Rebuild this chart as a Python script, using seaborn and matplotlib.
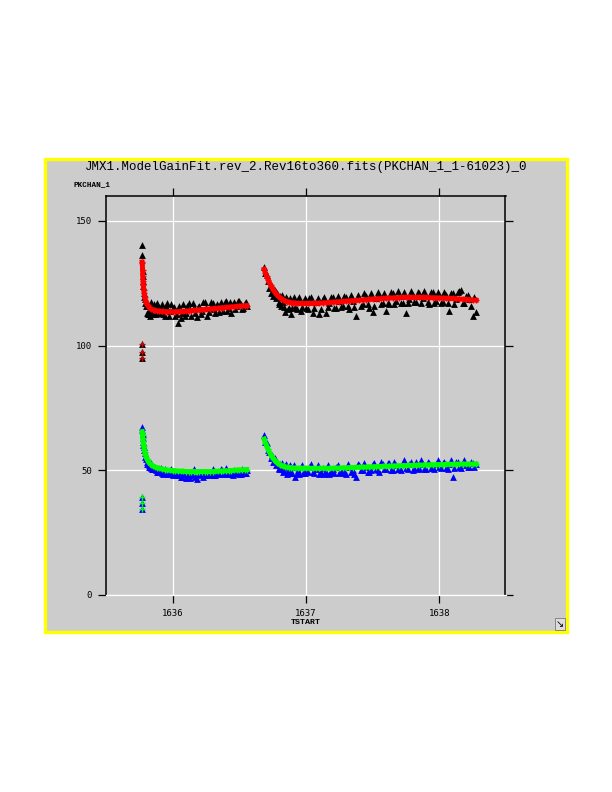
import matplotlib
matplotlib.use("Agg")
import matplotlib.pyplot as plt
from matplotlib.patches import Rectangle
import numpy as np
import pandas as pd
import seaborn as sns

# ---------------- data ----------------
title = "JMX1.ModelGainFit.rev_2.Rev16to360.fits(PKCHAN_1_1-61023)_0"
y_name = "PKCHAN_1"
x_name = "TSTART"
x_ticks = [1636, 1637, 1638]
x_tick_labels = ["1636", "1637", "1638"]
y_ticks = [0, 50, 100, 150]
y_tick_labels = ["0", "50", "100", "150"]

# segment 1 times
t1 = [1635.771, 1635.772, 1635.774, 1635.776, 1635.778, 1635.780, 1635.783, 1635.786,
      1635.790, 1635.795, 1635.800, 1635.806, 1635.812, 1635.820, 1635.830, 1635.840,
      1635.855, 1635.870, 1635.885, 1635.900, 1635.920, 1635.940, 1635.960, 1635.980,
      1636.000, 1636.020, 1636.040, 1636.060, 1636.080, 1636.100, 1636.120, 1636.140,
      1636.160, 1636.180, 1636.200, 1636.220, 1636.240, 1636.260, 1636.280, 1636.300,
      1636.320, 1636.340, 1636.360, 1636.380, 1636.400, 1636.420, 1636.440, 1636.460,
      1636.480, 1636.500, 1636.520, 1636.540, 1636.555]
upper_data1 = [140.4, 136.2, 130.0, 128.0, 126.0, 124.0, 121.0, 119.5,
               118.5, 117.0, 116.0, 113.0, 112.5, 114.0, 112.0, 116.0,
               112.5, 115.0, 117.0, 113.0, 116.5, 112.0, 117.0, 114.0,
               115.0, 112.0, 109.0, 111.0, 116.5, 113.0, 117.0, 112.0,
               115.5, 111.5, 116.0, 114.0, 117.5, 112.0, 115.0, 117.0,
               113.0, 116.0, 117.5, 114.0, 118.0, 115.0, 113.0, 117.5,
               116.0, 118.0, 114.5, 117.0, 116.0]
upper_fit1 = [133.5, 133.0, 130.5, 128.0, 126.0, 124.3, 122.5, 121.0,
              119.6, 118.4, 117.5, 116.7, 116.1, 115.5, 115.0, 114.6,
              114.3, 114.1, 113.9, 113.8, 113.7, 113.6, 113.6, 113.6,
              113.6, 113.6, 113.6, 113.7, 113.7, 113.8, 113.9, 114.0,
              114.1, 114.2, 114.3, 114.4, 114.5, 114.6, 114.7, 114.8,
              114.9, 115.0, 115.1, 115.2, 115.3, 115.4, 115.5, 115.6,
              115.7, 115.8, 115.9, 116.0, 116.0]
lower_data1 = [67.5, 66.0, 64.5, 63.0, 61.5, 60.0, 59.5, 58.0,
               57.0, 55.5, 54.5, 53.5, 53.0, 52.0, 51.5, 51.0,
               50.5, 50.5, 49.5, 50.0, 49.0, 50.5, 48.5, 49.5,
               48.0, 49.0, 48.0, 47.5, 48.5, 47.0, 49.0, 48.0,
               50.5, 46.5, 48.5, 49.5, 48.0, 49.0, 48.5, 50.5,
               48.0, 49.0, 50.5, 48.5, 51.0, 49.0, 48.5, 50.0,
               49.0, 48.5, 50.5, 49.0, 50.0]
lower_fit1 = [65.5, 65.0, 64.0, 62.8, 61.7, 60.7, 59.6, 58.6,
              57.5, 56.4, 55.5, 54.7, 54.0, 53.3, 52.7, 52.2,
              51.7, 51.3, 51.0, 50.8, 50.5, 50.3, 50.1, 50.0,
              49.9, 49.8, 49.7, 49.6, 49.6, 49.5, 49.5, 49.5,
              49.5, 49.5, 49.5, 49.5, 49.5, 49.5, 49.5, 49.5,
              49.6, 49.6, 49.7, 49.7, 49.8, 49.8, 49.9, 50.0,
              50.1, 50.1, 50.2, 50.3, 50.3]

# extra segment-1 readings between the times above
t1b = [1635.810, 1635.825, 1635.835, 1635.848, 1635.862, 1635.878, 1635.892, 1635.910,
       1635.930, 1635.950, 1635.970, 1635.990, 1636.010, 1636.030, 1636.050, 1636.070,
       1636.090, 1636.110, 1636.130, 1636.150, 1636.170, 1636.190, 1636.210, 1636.230,
       1636.250, 1636.270, 1636.290, 1636.310, 1636.330, 1636.350, 1636.370, 1636.390,
       1636.410, 1636.430, 1636.450, 1636.470, 1636.490, 1636.510, 1636.530, 1636.548]
upper_data1b = [117.0, 112.5, 117.5, 113.0, 116.5, 112.5, 116.0, 115.5,
                112.5, 116.0, 112.0, 116.5, 115.5, 112.5, 116.0, 113.0,
                112.0, 116.0, 114.5, 117.0, 113.0, 115.5, 112.5, 117.5,
                115.0, 113.5, 117.5, 114.5, 116.5, 113.5, 116.0, 117.5,
                114.0, 117.5, 116.5, 114.5, 118.0, 116.5, 115.0, 117.5]
lower_data1b = [52.5, 51.5, 53.0, 50.5, 51.0, 50.0, 49.5, 51.0,
                48.5, 49.5, 48.5, 50.5, 48.5, 48.0, 49.5, 47.5,
                48.5, 48.0, 47.0, 48.5, 47.5, 48.5, 48.0, 47.5,
                49.0, 48.0, 49.5, 48.0, 49.0, 48.5, 50.0, 49.0,
                48.5, 49.5, 48.0, 49.0, 49.5, 48.5, 49.5, 49.0]

# segment 2 times
t2 = [1636.686, 1636.695, 1636.705, 1636.715, 1636.725, 1636.735, 1636.745, 1636.755,
      1636.765, 1636.775, 1636.785, 1636.795, 1636.805, 1636.815, 1636.830, 1636.845,
      1636.860, 1636.875, 1636.890, 1636.905, 1636.920, 1636.940, 1636.960, 1636.980,
      1637.000, 1637.025, 1637.050, 1637.075, 1637.100, 1637.125, 1637.150, 1637.175,
      1637.200, 1637.225, 1637.250, 1637.275, 1637.300, 1637.325, 1637.350, 1637.375,
      1637.400, 1637.425, 1637.450, 1637.475, 1637.500, 1637.525, 1637.550, 1637.575,
      1637.600, 1637.625, 1637.650, 1637.675, 1637.700, 1637.725, 1637.750, 1637.775,
      1637.800, 1637.825, 1637.850, 1637.875, 1637.900, 1637.925, 1637.950, 1637.975,
      1638.000, 1638.025, 1638.050, 1638.075, 1638.100, 1638.125, 1638.150, 1638.175,
      1638.200, 1638.225, 1638.250, 1638.275]
upper_data2 = [131.5, 129.0, 128.5, 126.0, 123.0, 121.0, 124.0, 120.0,
               122.5, 119.0, 121.0, 117.5, 120.0, 116.0, 117.5, 113.5,
               118.5, 115.0, 112.5, 118.0, 115.5, 118.5, 114.0, 117.5,
               115.0, 119.0, 113.0, 117.5, 112.5, 118.5, 113.0, 117.0,
               119.5, 115.0, 118.0, 116.0, 119.5, 114.5, 118.0, 112.0,
               119.0, 116.5, 120.0, 115.0, 113.5, 119.0, 120.5, 117.0,
               114.0, 116.5, 121.0, 118.0, 120.0, 117.0, 113.0, 118.5,
               120.5, 117.5, 121.0, 119.0, 120.0, 116.5, 121.5, 118.0,
               120.0, 117.5, 120.5, 114.0, 121.0, 118.5, 122.0, 117.0,
               120.0, 118.5, 112.0, 113.5]
upper_fit2 = [130.6, 129.2, 127.8, 126.5, 125.3, 124.2, 123.2, 122.3,
              121.5, 120.8, 120.2, 119.7, 119.2, 118.8, 118.3, 117.9,
              117.6, 117.4, 117.2, 117.1, 117.0, 116.9, 116.9, 116.9,
              116.9, 116.9, 116.9, 117.0, 117.0, 117.1, 117.2, 117.3,
              117.4, 117.5, 117.6, 117.7, 117.8, 117.9, 118.0, 118.1,
              118.2, 118.3, 118.4, 118.5, 118.6, 118.7, 118.8, 118.9,
              119.0, 119.1, 119.1, 119.2, 119.2, 119.3, 119.3, 119.3,
              119.3, 119.3, 119.3, 119.3, 119.3, 119.2, 119.2, 119.1,
              119.1, 119.0, 119.0, 118.9, 118.9, 118.8, 118.7, 118.6,
              118.5, 118.4, 118.3, 118.2]
lower_data2 = [64.0, 61.5, 61.0, 58.0, 57.5, 55.0, 56.0, 53.5,
               55.0, 52.0, 53.5, 51.0, 52.5, 50.5, 49.5, 51.5,
               48.5, 50.5, 49.0, 51.5, 47.5, 50.0, 51.5, 49.0,
               50.5, 51.5, 49.5, 50.5, 48.5, 51.0, 49.5, 48.5,
               50.5, 51.5, 49.0, 50.5, 48.5, 51.5, 50.0, 47.5,
               52.0, 50.0, 51.5, 49.5, 52.5, 50.5, 49.5, 52.5,
               50.5, 53.0, 50.0, 52.0, 50.5, 53.0, 51.0, 52.5,
               50.0, 53.5, 51.0, 52.5, 50.5, 53.0, 51.0, 52.5,
               51.5, 53.0, 51.0, 52.5, 47.5, 53.5, 51.5, 53.0,
               52.0, 51.5, 53.0, 52.5]
lower_fit2 = [62.5, 61.0, 59.6, 58.4, 57.3, 56.3, 55.5, 54.7,
              54.1, 53.5, 53.0, 52.6, 52.3, 52.0, 51.7, 51.4,
              51.2, 51.1, 51.0, 50.9, 50.9, 50.8, 50.8, 50.8,
              50.8, 50.8, 50.8, 50.8, 50.8, 50.8, 50.8, 50.8,
              50.8, 50.9, 50.9, 51.0, 51.0, 51.1, 51.1, 51.2,
              51.2, 51.3, 51.3, 51.4, 51.4, 51.5, 51.5, 51.6,
              51.6, 51.7, 51.7, 51.8, 51.8, 51.9, 51.9, 52.0,
              52.0, 52.0, 52.1, 52.1, 52.2, 52.2, 52.2, 52.3,
              52.3, 52.3, 52.4, 52.4, 52.4, 52.4, 52.5, 52.5,
              52.5, 52.5, 52.5, 52.5]

# extra segment-2 readings between the times above
t2b = [1636.800, 1636.822, 1636.838, 1636.852, 1636.868, 1636.882, 1636.898, 1636.912,
       1636.930, 1636.950, 1636.970, 1636.990,
       1637.0125, 1637.0375, 1637.0625, 1637.0875, 1637.1125, 1637.1375, 1637.1625, 1637.1875,
       1637.2125, 1637.2375, 1637.2625, 1637.2875, 1637.3125, 1637.3375, 1637.3625, 1637.3875,
       1637.4125, 1637.4375, 1637.4625, 1637.4875, 1637.5125, 1637.5375, 1637.5625, 1637.5875,
       1637.6125, 1637.6375, 1637.6625, 1637.6875, 1637.7125, 1637.7375, 1637.7625, 1637.7875,
       1637.8125, 1637.8375, 1637.8625, 1637.8875, 1637.9125, 1637.9375, 1637.9625, 1637.9875,
       1638.0125, 1638.0375, 1638.0625, 1638.0875, 1638.1125, 1638.1375, 1638.1625, 1638.1875,
       1638.2125, 1638.2375, 1638.2625]
upper_data2b = [116.5, 120.5, 115.5, 119.5, 114.5, 119.0, 115.0, 119.5,
                114.5, 119.5, 115.5, 119.0,
                114.5, 119.5, 115.0, 119.0, 114.5, 119.5, 115.5, 119.5,
                115.0, 120.0, 115.5, 120.0, 116.0, 120.5, 115.5, 120.5,
                116.0, 121.0, 116.5, 121.0, 116.0, 121.5, 116.5, 121.0,
                117.0, 121.5, 116.5, 122.0, 117.0, 121.5, 117.0, 122.0,
                117.5, 121.5, 117.0, 122.0, 117.5, 121.5, 117.0, 121.5,
                117.0, 121.5, 117.0, 121.0, 116.5, 121.5, 122.5, 117.0,
                120.5, 116.0, 119.5]
lower_data2b = [50.5, 53.0, 50.0, 52.5, 49.5, 52.0, 49.0, 52.0,
                49.0, 48.5, 52.0, 49.0,
                49.5, 52.5, 49.0, 52.0, 49.5, 48.5, 52.0, 49.5,
                49.0, 52.0, 49.5, 49.0, 52.5, 49.5, 48.5, 52.5,
                50.0, 53.0, 49.5, 50.0, 53.0, 50.0, 53.5, 50.5,
                53.0, 50.0, 53.5, 50.5, 50.0, 54.0, 50.5, 53.5,
                51.0, 50.5, 54.0, 50.5, 53.5, 51.0, 50.5, 54.0,
                51.0, 53.5, 50.5, 54.0, 51.0, 53.5, 51.0, 54.0,
                51.5, 53.5, 51.5]

# isolated low points at the start of segment 1
spike_t = [1635.771, 1635.771, 1635.771]
upper_spike = [100.6, 97.6, 95.0]
lower_spike = [39.4, 36.9, 34.4]

# ---------------- tables ----------------
def seg_frame(t, v, seg):
    return pd.DataFrame({"t": t, "v": v, "seg": seg})

up_data = pd.concat([seg_frame(t1, upper_data1, 1), seg_frame(t1b, upper_data1b, 1),
                     seg_frame(t2, upper_data2, 2), seg_frame(t2b, upper_data2b, 2),
                     seg_frame(spike_t, upper_spike, 0)])
lo_data = pd.concat([seg_frame(t1, lower_data1, 1), seg_frame(t1b, lower_data1b, 1),
                     seg_frame(t2, lower_data2, 2), seg_frame(t2b, lower_data2b, 2),
                     seg_frame(spike_t, lower_spike, 0)])
up_fit = pd.concat([seg_frame(t1, upper_fit1, 1), seg_frame(t2, upper_fit2, 2)])
lo_fit = pd.concat([seg_frame(t1, lower_fit1, 1), seg_frame(t2, lower_fit2, 2)])
up_fit_spike = seg_frame(spike_t, upper_spike, 0)
lo_fit_spike = seg_frame(spike_t, lower_spike, 0)

# ---------------- figure ----------------
W, H = 612, 792
fig = plt.figure(figsize=(W / 100, H / 100), dpi=100)
fig.patch.set_facecolor("white")

panel = Rectangle((44.5 / W, 1 - 632 / H), (566.5 - 44.5) / W, (632 - 159) / H,
                  transform=fig.transFigure, facecolor="#cccccc",
                  edgecolor="#ffff00", linewidth=2.4, zorder=-10)
fig.patches.append(panel)

ax_l, ax_r, ax_t, ax_b = 106, 505.5, 196, 595
ax = fig.add_axes([ax_l / W, 1 - ax_b / H, (ax_r - ax_l) / W, (ax_b - ax_t) / H])
ax.set_zorder(1)
ax.set_facecolor("#cccccc")

tri = 24
sns.scatterplot(data=up_data, x="t", y="v", marker="^", color="black", s=tri,
                linewidth=0, ax=ax, zorder=3, legend=False)
sns.lineplot(data=up_fit, x="t", y="v", units="seg", estimator=None, sort=False,
             color="#ff0000", lw=3.6, marker="+", markersize=4.5, markeredgewidth=1.0,
             markeredgecolor="#ff0000", ax=ax, zorder=4, legend=False)
sns.scatterplot(data=up_fit_spike, x="t", y="v", marker="+", color="#cc0000", s=14,
                linewidth=1.0, ax=ax, zorder=4, legend=False)

sns.scatterplot(data=lo_data, x="t", y="v", marker="^", color="#0000ff", s=tri,
                linewidth=0, ax=ax, zorder=3, legend=False)
sns.lineplot(data=lo_fit, x="t", y="v", units="seg", estimator=None, sort=False,
             color="#00ff00", lw=3.6, marker="+", markersize=4.5, markeredgewidth=1.0,
             markeredgecolor="#00ff00", ax=ax, zorder=4, legend=False)
sns.scatterplot(data=lo_fit_spike, x="t", y="v", marker="+", color="#00ff00", s=14,
                linewidth=1.0, ax=ax, zorder=4, legend=False)

ax.set_xlim(1635.5, 1638.495)
ax.set_ylim(0, 160)
ax.set_xticks(x_ticks)
ax.set_xticklabels(x_tick_labels)
ax.set_yticks(y_ticks)
ax.set_yticklabels(y_tick_labels)
ax.set_xlabel("")
ax.set_ylabel("")

ax.grid(True, color="white", linewidth=0.9)
ax.set_axisbelow(True)

for side in ("left", "top", "right"):
    ax.spines[side].set_color("black")
    ax.spines[side].set_linewidth(1.1)
ax.spines["bottom"].set_color("white")
ax.spines["bottom"].set_linewidth(0.9)

ax.tick_params(axis="both", which="major", direction="out", length=6, width=0.9,
               color="black", labelsize=6.5, labelcolor="black")
ax.tick_params(axis="x", top=True, bottom=True, labeltop=False, pad=4)
ax.tick_params(axis="y", left=True, right=True, labelright=False, pad=4)
for lab in ax.get_xticklabels() + ax.get_yticklabels():
    lab.set_family("DejaVu Sans Mono")

fig.text(306 / W, 1 - 167 / H, title, ha="center", va="center",
         family="Liberation Mono", fontsize=9, color="black")
fig.text(74 / W, 1 - 185 / H, y_name, ha="left", va="center",
         family="Liberation Mono", fontweight="bold", fontsize=5.5, color="black")
fig.text(305.5 / W, 1 - 622 / H, x_name, ha="center", va="center",
         family="Liberation Mono", fontweight="bold", fontsize=6, color="black")
fig.text(560 / W, 1 - 624 / H, "\u2198", ha="center", va="center",
         family="DejaVu Sans", fontsize=7, color="black",
         bbox=dict(boxstyle="square,pad=0.1", fc="#dcdcdc", ec="#666666", lw=0.5))

fig.savefig("out.png", dpi=100, facecolor="white")
